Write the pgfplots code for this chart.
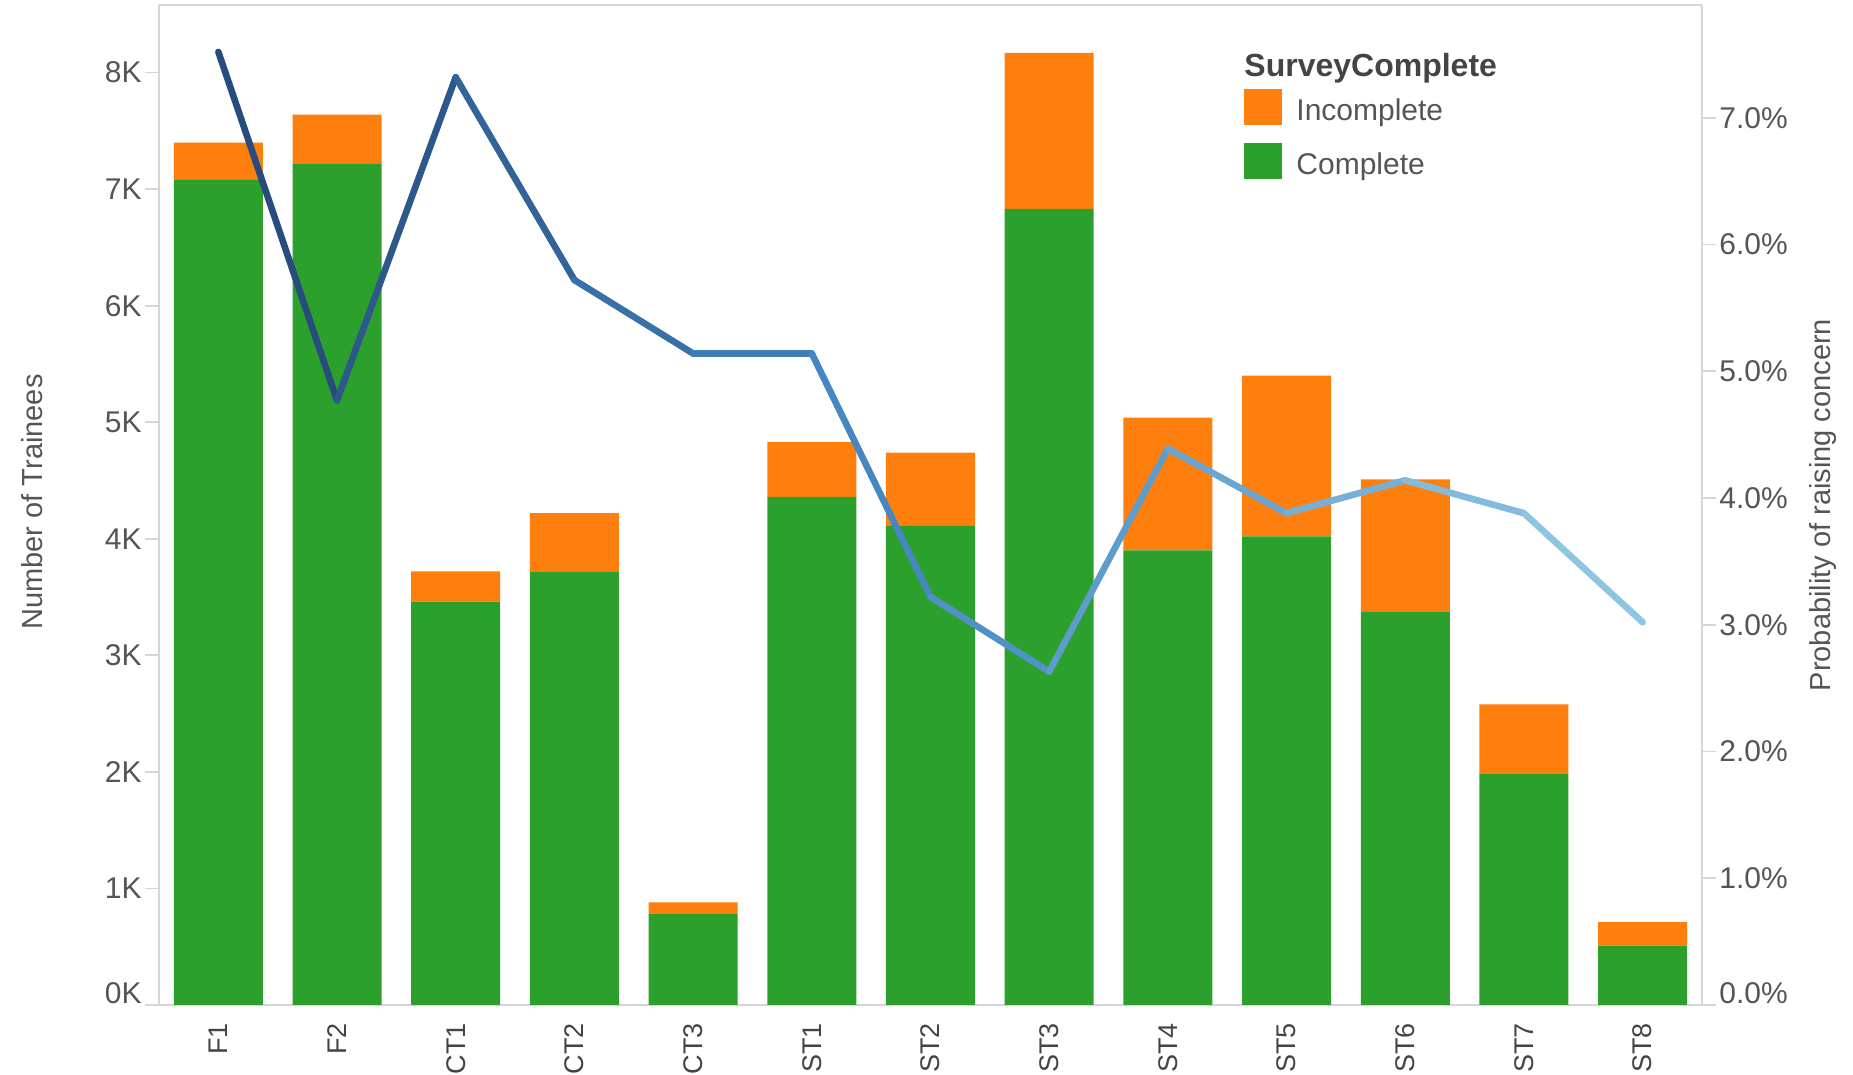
\documentclass[border=0pt]{standalone}
\usepackage{pgfplots}
\pgfplotsset{compat=1.18}
\usepackage{fontspec}
\setmainfont{Liberation Sans}
\definecolor{cOrange}{HTML}{FF7F0E}
\definecolor{cGreen}{HTML}{2CA02C}
\definecolor{txt}{HTML}{555555}
\definecolor{ttl}{HTML}{444444}
\definecolor{axl}{HTML}{D6D6D6}
\pgfplotstableread{
x complete incomplete
0 7.08 0.32
1 7.22 0.42
2 3.46 0.26
3 3.72 0.50
4 0.78 0.10
5 4.36 0.47
6 4.11 0.63
7 6.83 1.34
8 3.90 1.14
9 4.02 1.38
10 3.37 1.14
11 1.98 0.60
12 0.51 0.20
}\bars
\pgfplotstableread{
x prob
0 7.52
1 4.77
2 7.32
3 5.72
4 5.14
5 5.14
6 3.22
7 2.63
8 4.39
9 3.88
10 4.14
11 3.88
12 3.02
}\probs
\begin{document}
\begin{tikzpicture}
\pgfplotsset{
  every axis/.append style={
    scale only axis, width=771.5pt, height=500pt,
    xmin=-0.5, xmax=12.5,
    axis line style={axl, line width=1pt},
    tick style={axl, line width=0.9pt},
    tick align=outside,
    major tick length=7pt,
    tick label style={font=\fontsize{15}{18}\selectfont, text=txt},
    /pgf/number format/assume math mode=true,
  }
}
\begin{axis}[
  ybar stacked, bar width=0.75,
  ymin=0, ymax=8.58,
  axis x line*=bottom, axis y line*=left,
  ytick={1,...,8},
  extra y ticks={0},
  extra y tick style={yticklabel style={yshift=6pt}},
  yticklabel={\pgfmathprintnumber{\tick}K},
  yticklabel style={inner sep=1.5pt},
  xtick={0,...,12},
  xticklabels={F1,F2,CT1,CT2,CT3,ST1,ST2,ST3,ST4,ST5,ST6,ST7,ST8},
  xticklabel style={rotate=90, anchor=east, font=\fontsize{13.5}{16}\selectfont, inner sep=2pt, text=ttl},
  major x tick style={draw=none},
  extra x ticks={0.5,1.5,...,11.5},
  extra x tick labels={},
  extra x tick style={major tick length=5pt, tick style={axl, line width=0.9pt}},
  every axis y label/.style={at={(axis description cs:0,0.503)}, xshift=-63.5pt, rotate=90, anchor=center},
  ylabel={\fontsize{14.5}{17}\selectfont\color{txt}Number of Trainees},
  reverse legend,
  legend style={at={(rel axis cs:0.7032,0.9164)}, anchor=north west, draw=none, fill=none,
    inner sep=0pt, row sep=9.2pt, font=\fontsize{15}{18}\selectfont, text=txt,
    nodes={inner sep=0pt}, column sep=7pt},
  legend cell align=left,
  legend image code/.code={\fill[#1] (0pt,-7pt) rectangle (19pt,11pt);},
]
\addplot[fill=cGreen, draw=none] table[x=x, y=complete] {\bars};
\addlegendentry{Complete}
\addplot[fill=cOrange, draw=none] table[x=x, y=incomplete] {\bars};
\addlegendentry{Incomplete}
\node[anchor=west, inner sep=0pt, text=ttl, font=\bfseries\fontsize{16}{19}\selectfont] at (rel axis cs:0.7032,0.9365) {SurveyComplete};
\draw[axl, line width=1pt] ([xshift=-79.5pt]rel axis cs:0,1) -- ([xshift=80pt]rel axis cs:1,1);
\draw[axl, line width=1pt] ([xshift=-79.5pt]rel axis cs:0,0) -- ([xshift=80pt]rel axis cs:1,0);
\draw[axl, line width=1pt] (rel axis cs:0,0) -- ([yshift=-7pt]rel axis cs:0,0);
\draw[axl, line width=1pt] (rel axis cs:1,0) -- ([yshift=-7pt]rel axis cs:1,0);
\end{axis}
\begin{axis}[
  ymin=0, ymax=7.89,
  axis x line=none, axis y line*=right,
  ytick align=outside,
  ytick={1,...,7},
  extra y ticks={0},
  extra y tick style={yticklabel style={yshift=6pt}},
  yticklabel={\pgfmathprintnumber[fixed,fixed zerofill,precision=1]{\tick}\%},
  yticklabel style={inner sep=1.5pt, anchor=west},
  every axis y label/.style={at={(axis description cs:1,0.5)}, xshift=60.5pt, rotate=90, anchor=center},
  ylabel={\fontsize{14.5}{17}\selectfont\color{txt}Probability of raising concern},
]
\addplot[mesh, shader=flat, point meta=x, point meta min=0, point meta max=12,
  colormap={bl}{rgb255(0cm)=(36,70,118); rgb255(5cm)=(64,130,190); rgb255(12cm)=(148,202,228)},
  line width=3.3pt, line cap=round, line join=round]
  table[x=x, y=prob] {\probs};
\end{axis}
\pgfresetboundingbox
\useasboundingbox (-79.5pt,-35pt) rectangle (847pt,502.5pt);
\end{tikzpicture}
\end{document}
